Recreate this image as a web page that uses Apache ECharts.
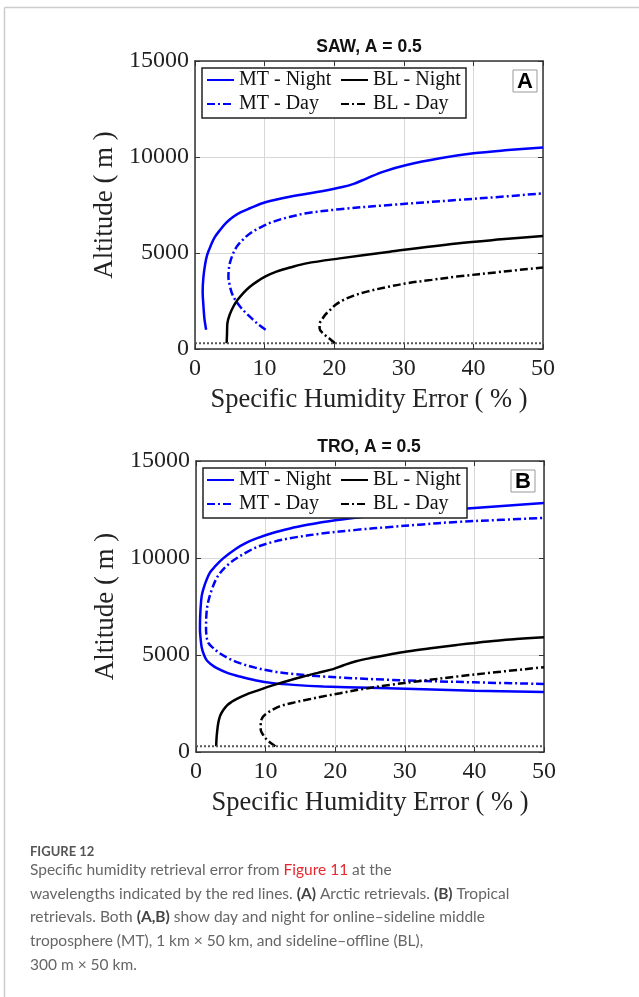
<!DOCTYPE html>
<html>
<head>
<meta charset="utf-8">
<script src="https://cdn.jsdelivr.net/npm/echarts@6/dist/echarts.min.js"></script>
<style>
  html, body { margin: 0; padding: 0; background: #fff; }
  #chart { width: 639px; height: 997px; }
</style>
</head>
<body>
<div id="chart"></div>
<script>
// error (%) , altitude (m)
const sawMtNight = [[1.6,1000],[1.35,1600],[1.2,2300],[1.1,3000],[1.2,3700],[1.45,4400],[1.75,4900],[2.2,5330],[2.8,5800],[3.6,6200],[4.5,6580],[5.5,6890],[6.6,7130],[7.9,7330],[10.1,7640],[13.6,7930],[18.4,8230],[21,8420],[22.8,8600],[24.7,8890],[27.1,9240],[30.4,9580],[35.2,9930],[40,10190],[45,10360],[50,10500]];
const sawMtDay = [[10.15,1000],[9.2,1250],[8.4,1510],[7.4,1850],[6.5,2200],[5.8,2550],[5.3,2900],[5.0,3300],[4.8,3770],[4.85,4100],[5.0,4460],[5.4,4900],[6.0,5330],[6.9,5700],[7.9,6020],[9.5,6350],[11.25,6630],[13.5,6870],[16,7070],[20.8,7280],[28,7500],[37.6,7760],[44,7930],[50,8110]];
const sawBlNight = [[4.55,300],[4.6,800],[4.65,1340],[5.0,1800],[5.5,2200],[6.1,2550],[6.9,2900],[7.8,3220],[8.9,3510],[10.2,3790],[11.7,4030],[13.8,4260],[16,4460],[20.8,4720],[28,5070],[37.6,5500],[44,5710],[50,5880]];
const sawBlDay = [[20.1,300],[19.3,550],[18.4,810],[17.9,1070],[17.9,1300],[18.2,1510],[18.7,1780],[19.4,2030],[20.2,2300],[21.3,2550],[22.8,2780],[24.7,2990],[27.5,3220],[30.4,3420],[34,3600],[37.6,3770],[44,4020],[50,4250]];

const troMtNight = [[50,3090],[40,3160],[32.7,3240],[25,3310],[18.3,3380],[14,3460],[11.1,3550],[8.5,3700],[6.3,3890],[4.5,4080],[3.0,4320],[2.1,4540],[1.5,4750],[1.1,5050],[0.8,5430],[0.65,5900],[0.57,6300],[0.6,7000],[0.8,8000],[1.1,8450],[1.5,8860],[2.0,9250],[2.7,9550],[3.9,9980],[5.8,10490],[7.2,10780],[8.7,11010],[11,11290],[13.5,11520],[16,11710],[18.3,11860],[22,12040],[26,12200],[30,12320],[35,12450],[40,12580],[45,12710],[50,12840]];
const troMtDay = [[50,3510],[40,3590],[27.9,3720],[18.3,3890],[14,4020],[11.1,4150],[8.5,4350],[6.3,4580],[4.6,4840],[3.4,5090],[2.5,5350],[1.8,5610],[1.5,6000],[1.44,6460],[1.5,7100],[1.7,7660],[2.3,8400],[3.2,9100],[4.9,9750],[7.3,10300],[9,10600],[11.1,10830],[14,11050],[18.3,11270],[23,11450],[27.9,11600],[32,11720],[37.5,11860],[44,11970],[50,12070]];
const troBlNight = [[2.9,300],[2.95,700],[3.05,1100],[3.2,1490],[3.45,1850],[3.9,2150],[4.5,2420],[5.2,2600],[5.8,2730],[7.2,2960],[8.7,3150],[10.1,3330],[11.6,3500],[13.5,3700],[15.4,3890],[17.5,4080],[19.7,4270],[21.2,4470],[23,4680],[25.5,4870],[28,5040],[30.3,5180],[34,5360],[37.5,5520],[42,5700],[46,5820],[50,5920]];
const troBlDay = [[11.4,300],[10.8,450],[10.2,630],[9.7,850],[9.3,1150],[9.3,1400],[9.4,1660],[9.7,1850],[10.2,2000],[11,2180],[12,2350],[13.8,2530],[15.9,2690],[18,2850],[20.7,3030],[24,3250],[27.9,3460],[32,3650],[37.5,3890],[43,4110],[50,4370]];

// 300 m boundary line
const blTopLine = [[0,300],[50,300]];

const panelTitles = ['SAW, A = 0.5', 'TRO, A = 0.5'];
const panelLetters = ['A', 'B'];
const legendNames = [['MT - Night', 'MT - Day'], ['BL - Night', 'BL - Day']];
const xName = 'Specific Humidity Error ( % )';
const yName = 'Altitude ( m )';

const chart = echarts.init(document.getElementById('chart'));

const serif = 'Liberation Serif';
const blue = '#0000ff';
const dashDot = [8, 3, 2, 3];

const grids = [
  { left: 195, top: 61, width: 348, height: 288 },
  { left: 196, top: 461, width: 348, height: 291 }
];

function xAxes(i) {
  return [
    {
      type: 'value', gridIndex: i, min: 0, max: 50, interval: 10,
      name: xName, nameLocation: 'middle', nameGap: 38,
      nameTextStyle: { fontFamily: serif, fontSize: 26.5, color: '#222' },
      axisLine: { show: true, lineStyle: { color: '#333', width: 1.5 } },
      axisTick: { show: true, inside: true, length: 5, lineStyle: { color: '#333' } },
      axisLabel: { fontFamily: serif, fontSize: 24, color: '#222', margin: 8 },
      splitLine: { show: true, lineStyle: { color: '#d8d8d8', width: 1 } }
    },
    {
      type: 'value', gridIndex: i, min: 0, max: 50, interval: 10, position: 'top',
      axisLine: { show: true, onZero: false, lineStyle: { color: '#333', width: 1.5 } },
      axisTick: { show: true, inside: true, length: 5, lineStyle: { color: '#333' } },
      axisLabel: { show: false },
      splitLine: { show: false }
    }
  ];
}

function yAxes(i) {
  return [
    {
      type: 'value', gridIndex: i, min: 0, max: 15000, interval: 5000,
      name: yName, nameLocation: 'middle', nameGap: 75,
      nameTextStyle: { fontFamily: serif, fontSize: 27, color: '#222' },
      axisLine: { show: true, lineStyle: { color: '#333', width: 1.5 } },
      axisTick: { show: true, inside: true, length: 5, lineStyle: { color: '#333' } },
      axisLabel: { fontFamily: serif, fontSize: 24, color: '#222', margin: 6, formatter: v => String(v) },
      splitLine: { show: true, lineStyle: { color: '#d8d8d8', width: 1 } }
    },
    {
      type: 'value', gridIndex: i, min: 0, max: 15000, interval: 5000, position: 'right',
      axisLine: { show: true, onZero: false, lineStyle: { color: '#333', width: 1.5 } },
      axisTick: { show: true, inside: true, length: 5, lineStyle: { color: '#333' } },
      axisLabel: { show: false },
      splitLine: { show: false }
    }
  ];
}

function curve(name, data, axisIdx, color, dashed) {
  return {
    name: name, type: 'line', data: data,
    xAxisIndex: axisIdx, yAxisIndex: axisIdx,
    symbol: 'none', smooth: 0.35, z: 2,
    lineStyle: { color: color, width: 2.5, type: dashed ? dashDot : 'solid' },
    itemStyle: { color: color }
  };
}

function boundary(axisIdx) {
  return {
    name: 'boundary', type: 'line', data: blTopLine,
    xAxisIndex: axisIdx, yAxisIndex: axisIdx,
    symbol: 'none', z: 2, silent: true,
    lineStyle: { color: '#555', width: 2, type: [2, 2] }
  };
}

function legends(top) {
  return legendNames.map((names, c) => ({
    data: names, orient: 'vertical', left: c === 0 ? 206 : 340, top: top, padding: 0,
    itemWidth: 27, itemHeight: 14, itemGap: 4, selectedMode: false, z: 5,
    itemStyle: { opacity: 0 },
    textStyle: { fontFamily: serif, fontSize: 20, color: '#111', lineHeight: 20 }
  }));
}

function panelGraphics(i, titleY, box, letterBox) {
  return [
    {
      type: 'text', x: 369, y: titleY, z: 10,
      style: {
        text: panelTitles[i], fontFamily: 'Liberation Sans', fontWeight: 'bold', fontSize: 17.5,
        fill: '#111', textAlign: 'center', align: 'center',
        textVerticalAlign: 'middle', verticalAlign: 'middle'
      }
    },
    {
      type: 'rect', z: 3,
      shape: { x: box[0], y: box[1], width: box[2], height: box[3] },
      style: { fill: '#fff', stroke: '#222', lineWidth: 1.5 }
    },
    {
      type: 'rect', z: 3,
      shape: { x: letterBox[0], y: letterBox[1], width: 24, height: 22 },
      style: { fill: '#fff', stroke: '#999', lineWidth: 1 }
    },
    {
      type: 'text', x: letterBox[0] + 12, y: letterBox[1] + 11.5, z: 4,
      style: {
        text: panelLetters[i], fontFamily: 'Liberation Sans', fontWeight: 'bold', fontSize: 22,
        fill: '#000', textAlign: 'center', align: 'center',
        textVerticalAlign: 'middle', verticalAlign: 'middle'
      }
    }
  ];
}

const capFont = 15.5;
const captionRich = {
  r: { fill: '#e8262e', color: '#e8262e', fontFamily: 'Lato', fontSize: capFont },
  b: { fill: '#444', color: '#444', fontFamily: 'Lato', fontSize: capFont, fontWeight: 'bold' }
};
const captionLines = [
  'Specific humidity retrieval error from {r|Figure 11} at the',
  'wavelengths indicated by the red lines. {b|(A)} Arctic retrievals. {b|(B)} Tropical',
  'retrievals. Both {b|(A,B)} show day and night for online\u2013sideline middle',
  'troposphere (MT), 1 km \u00d7 50 km, and sideline\u2013offline (BL),',
  '300 m \u00d7 50 km.'
];

const captionGraphics = captionLines.map((t, k) => ({
  type: 'text', x: 30, y: 870 + k * 23.7,
  style: {
    text: t, rich: captionRich, fontFamily: 'Lato', fontSize: capFont, fill: '#666',
    textVerticalAlign: 'middle', verticalAlign: 'middle'
  }
}));

const option = {
  backgroundColor: '#fff',
  animation: false,
  grid: grids,
  xAxis: [...xAxes(0), ...xAxes(1)],
  yAxis: [...yAxes(0), ...yAxes(1)],
  legend: [...legends(70), ...legends(470)],
  series: [
    curve('MT - Night', sawMtNight, 0, blue, false),
    curve('MT - Day', sawMtDay, 0, blue, true),
    curve('BL - Night', sawBlNight, 0, '#000', false),
    curve('BL - Day', sawBlDay, 0, '#000', true),
    boundary(0),
    curve('MT - Night', troMtNight, 2, blue, false),
    curve('MT - Day', troMtDay, 2, blue, true),
    curve('BL - Night', troBlNight, 2, '#000', false),
    curve('BL - Day', troBlDay, 2, '#000', true),
    boundary(2)
  ],
  graphic: [
    { type: 'line', shape: { x1: 4.5, y1: 7.5, x2: 639, y2: 7.5 }, style: { stroke: '#cccccc', lineWidth: 1.5 } },
    { type: 'line', shape: { x1: 4.5, y1: 7.5, x2: 4.5, y2: 997 }, style: { stroke: '#cccccc', lineWidth: 1.5 } },
    ...panelGraphics(0, 47, [202, 68, 264, 50], [513, 70]),
    ...panelGraphics(1, 447, [203, 468, 264, 50], [511, 470]),
    {
      type: 'text', x: 30, y: 852,
      style: {
        text: 'FIGURE 12', fontFamily: 'Lato', fontSize: 13, fontWeight: 'bold', fill: '#555',
        textVerticalAlign: 'middle', verticalAlign: 'middle'
      }
    },
    ...captionGraphics
  ]
};

chart.setOption(option);
</script>
</body>
</html>
